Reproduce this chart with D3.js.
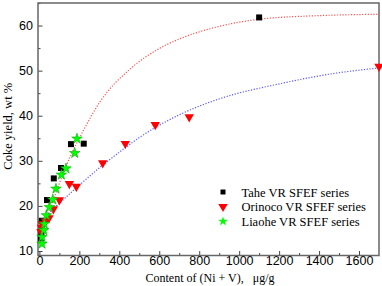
<!DOCTYPE html>
<html>
<head>
<meta charset="utf-8">
<script src="https://cdn.jsdelivr.net/npm/d3@7"></script>
<style>
    body { margin: 0; background: #fff; }
    .tick text { font-family: "Liberation Sans", Arial, sans-serif; font-size: 12.5px; fill: #000; }
    .axis-title, .legend text { font-family: "Liberation Serif", "Times New Roman", serif; font-size: 12.5px; fill: #000; }
</style>
</head>
<body>
<div id="chart"></div>
<script>

// series data: [content of Ni+V, coke yield]
var tahe = [[8,12.8],[10,13.9],[12,14.8],[12,16.7],[38,21.3],[72,26.1],[108,28.4],[158,33.7],[222,33.8],[1100,61.8]];
var orinoco = [[8,14.3],[10,15.2],[14,16.0],[30,16.6],[48,17.3],[70,19.3],[100,21.3],[150,24.9],[185,24.3],[317,29.5],[430,33.8],[580,38.0],[750,39.7],[1700,50.9]];
var liaohe = [[13,11.6],[13,13.1],[22,14.6],[25,16.0],[35,17.9],[50,19.7],[67,21.4],[83,23.8],[110,26.9],[133,28.3],[177,31.7],[188,34.9]];

// fitted trend lines
var taheFit = [[15,13.5],[60,20],[100,25],[160,31.5],[200,35],[305,43.2],[455,50.4],[600,54.9],[705,57.1],[872,59.5],[1100,61.4],[1400,62.2],[1700,62.5]];
var orinocoFit = [[10,16.3],[50,18.5],[105,20.8],[200,24.6],[305,28.6],[430,32.9],[505,35.3],[705,40.3],[905,43.8],[1205,47.1],[1450,49.2],[1700,50.6]];

var seriesNames = ["Tahe VR SFEF series", "Orinoco VR SFEF series", "Liaohe VR SFEF series"];
var xTicks = [0, 200, 400, 600, 800, 1000, 1200, 1400, 1600];
var yTicks = [10, 20, 30, 40, 50, 60];

var margin = {top: 3, bottom: 30.5, left: 38, right: 3};
var W = 382, H = 286;
var width = W - margin.left - margin.right;
var height = H - margin.top - margin.bottom;

var svg = d3.select("#chart").append("svg")
    .attr("width", W)
    .attr("height", H)
    .append("g")
    .attr("transform", "translate(" + margin.left + "," + margin.top + ")");

// Scales
var x = d3.scaleLinear().domain([-7, 1700]).range([0, width]);
var y = d3.scaleLinear().domain([9, 65]).range([height, 0]);

svg.append("defs").append("clipPath")
    .attr("id", "clip")
    .append("rect")
    .attr("width", width)
    .attr("height", height);

function styleAxis(g) {
    g.select(".domain").remove();
    g.selectAll("line").attr("stroke", "#444");
}

// minor ticks first, then major with labels (ticks point inward)
svg.append("g")
    .attr("transform", "translate(0," + height + ")")
    .call(d3.axisBottom(x).tickValues(d3.range(100, 1700, 200)).tickSize(-2.5).tickFormat(""))
    .call(styleAxis);

svg.append("g")
    .call(d3.axisLeft(y).tickValues(d3.range(15, 66, 10)).tickSize(-2.5).tickFormat(""))
    .call(styleAxis);

svg.append("g")
    .attr("class", "x-axis axis")
    .attr("transform", "translate(0," + height + ")")
    .call(d3.axisBottom(x).tickValues(xTicks).tickSize(-4.5).tickPadding(1).tickFormat(d3.format("d")))
    .call(styleAxis);

svg.append("g")
    .attr("class", "y-axis axis")
    .call(d3.axisLeft(y).tickValues(yTicks).tickSize(-4.5).tickPadding(5).tickFormat(d3.format("d")))
    .call(styleAxis);

// frame
svg.append("rect")
    .attr("width", width)
    .attr("height", height)
    .attr("fill", "none")
    .attr("stroke", "#666")
    .attr("stroke-width", 1.5);

// fit curves
var line = d3.line()
    .x(function(d) { return x(d[0]); })
    .y(function(d) { return y(d[1]); })
    .curve(d3.curveMonotoneX);

var plot = svg.append("g").attr("clip-path", "url(#clip)");

plot.append("path")
    .datum(taheFit)
    .attr("d", line)
    .attr("fill", "none")
    .attr("stroke", "#ff5050")
    .attr("stroke-width", 1.2)
    .attr("stroke-dasharray", "1.2,1.6");

plot.append("path")
    .datum(orinocoFit)
    .attr("d", line)
    .attr("fill", "none")
    .attr("stroke", "#5a5aff")
    .attr("stroke-width", 1.2)
    .attr("stroke-dasharray", "1.2,1.6");

// markers
var sq = d3.symbol().type(d3.symbolSquare).size(36);
var tri = d3.symbol().type(d3.symbolTriangle).size(38);
var star = d3.symbol().type(d3.symbolStar).size(34);

var marks = svg.append("g");

marks.selectAll("path.tahe")
    .data(tahe)
    .enter().append("path")
    .attr("class", "tahe")
    .attr("d", sq)
    .attr("fill", "#000")
    .attr("transform", function(d) { return "translate(" + x(d[0]) + "," + y(d[1]) + ")"; });

marks.selectAll("path.orinoco")
    .data(orinoco)
    .enter().append("path")
    .attr("class", "orinoco")
    .attr("d", tri)
    .attr("fill", "#ff0000")
    .attr("transform", function(d) { return "translate(" + x(d[0]) + "," + y(d[1]) + ") rotate(180)"; });

marks.selectAll("path.liaohe")
    .data(liaohe)
    .enter().append("path")
    .attr("class", "liaohe")
    .attr("d", star)
    .attr("fill", "#00ff00")
    .attr("stroke", "#00b000")
    .attr("stroke-width", 0.6)
    .attr("transform", function(d) { return "translate(" + x(d[0]) + "," + y(d[1]) + ")"; });

// legend
var legend = svg.append("g")
    .attr("class", "legend")
    .attr("transform", "translate(185,189)");

var legendSyms = [
    {d: d3.symbol().type(d3.symbolSquare).size(25), fill: "#000", rot: 0},
    {d: tri, fill: "#ff0000", rot: 180},
    {d: d3.symbol().type(d3.symbolStar).size(28), fill: "#00ff00", rot: 0}
];

seriesNames.forEach(function(name, i) {
    var row = legend.append("g").attr("transform", "translate(0," + (i * 14.7) + ")");
    row.append("path")
        .attr("d", legendSyms[i].d)
        .attr("fill", legendSyms[i].fill)
        .attr("transform", "rotate(" + legendSyms[i].rot + ")");
    row.append("text")
        .attr("x", 18.5)
        .attr("y", 4.5)
        .text(name);
});

// axis titles
svg.append("text")
    .attr("class", "axis-title")
    .attr("x", 172)
    .attr("y", height + 26)
    .attr("text-anchor", "middle")
    .style("font-size", "12px")
    .style("white-space", "pre")
    .text("Content of (Ni + V),   \u03bcg/g");

svg.append("text")
    .attr("class", "axis-title")
    .attr("transform", "translate(-26," + (height / 2 - 3) + ") rotate(-90)")
    .attr("text-anchor", "middle")
    .text("Coke yield, wt %");

</script>
</body>
</html>
